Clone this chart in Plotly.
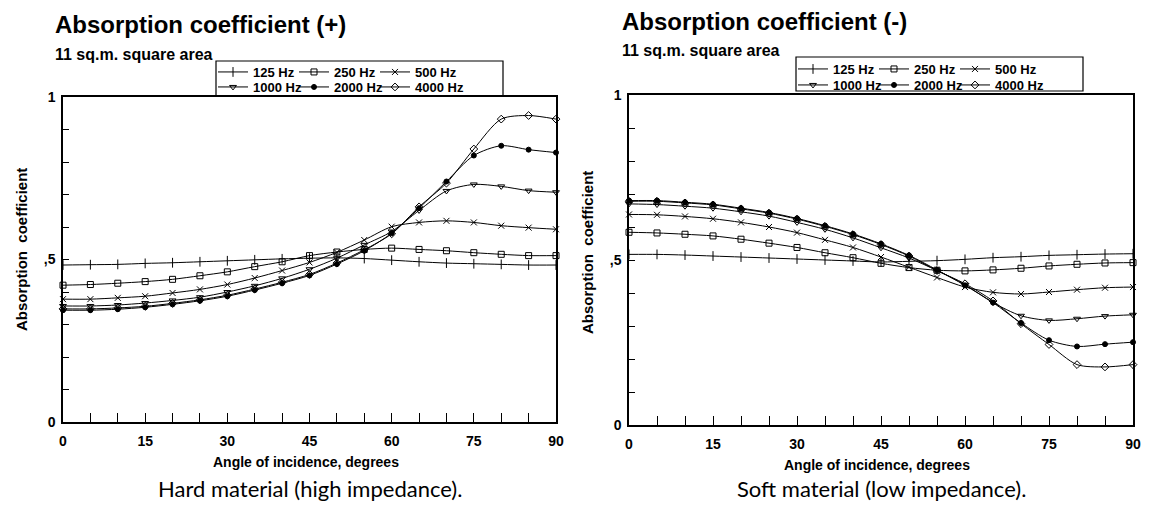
import plotly.graph_objects as go

# ---------------- data ----------------
angles = [0, 5, 10, 15, 20, 25, 30, 35, 40, 45, 50, 55, 60, 65, 70, 75, 80, 85, 90]
series_names = ["125 Hz", "250 Hz", "500 Hz", "1000 Hz", "2000 Hz", "4000 Hz"]

hard_125 = [0.483, 0.484, 0.485, 0.488, 0.490, 0.493, 0.496, 0.499, 0.502, 0.504, 0.505, 0.503, 0.498, 0.493, 0.489, 0.487, 0.485, 0.483, 0.483]
hard_250 = [0.421, 0.423, 0.427, 0.432, 0.439, 0.450, 0.462, 0.478, 0.493, 0.512, 0.523, 0.531, 0.535, 0.531, 0.527, 0.521, 0.516, 0.512, 0.512]
hard_500 = [0.378, 0.378, 0.382, 0.387, 0.397, 0.408, 0.423, 0.443, 0.466, 0.491, 0.522, 0.560, 0.601, 0.614, 0.619, 0.614, 0.604, 0.598, 0.593]
hard_1000 = [0.357, 0.357, 0.360, 0.366, 0.374, 0.384, 0.400, 0.419, 0.442, 0.470, 0.504, 0.545, 0.586, 0.651, 0.711, 0.731, 0.725, 0.712, 0.707]
hard_2000 = [0.344, 0.344, 0.347, 0.353, 0.362, 0.373, 0.387, 0.406, 0.427, 0.451, 0.486, 0.527, 0.581, 0.658, 0.740, 0.820, 0.850, 0.838, 0.829]
hard_4000 = [0.348, 0.348, 0.351, 0.356, 0.365, 0.376, 0.390, 0.409, 0.430, 0.454, 0.489, 0.530, 0.579, 0.662, 0.735, 0.840, 0.932, 0.943, 0.932]

soft_125 = [0.517, 0.517, 0.515, 0.512, 0.509, 0.506, 0.503, 0.500, 0.497, 0.494, 0.496, 0.498, 0.502, 0.507, 0.510, 0.514, 0.516, 0.518, 0.519]
soft_250 = [0.584, 0.582, 0.578, 0.573, 0.563, 0.551, 0.538, 0.522, 0.507, 0.490, 0.477, 0.469, 0.467, 0.470, 0.475, 0.482, 0.487, 0.491, 0.492]
soft_500 = [0.638, 0.637, 0.632, 0.625, 0.614, 0.600, 0.583, 0.561, 0.538, 0.509, 0.478, 0.447, 0.418, 0.402, 0.397, 0.403, 0.410, 0.416, 0.418]
soft_1000 = [0.670, 0.668, 0.663, 0.657, 0.646, 0.633, 0.614, 0.593, 0.567, 0.537, 0.506, 0.468, 0.425, 0.371, 0.331, 0.317, 0.322, 0.330, 0.334]
soft_2000 = [0.680, 0.680, 0.675, 0.669, 0.657, 0.644, 0.626, 0.604, 0.579, 0.549, 0.514, 0.470, 0.423, 0.371, 0.309, 0.257, 0.238, 0.245, 0.251]
soft_4000 = [0.678, 0.678, 0.673, 0.667, 0.655, 0.642, 0.624, 0.602, 0.577, 0.547, 0.512, 0.468, 0.428, 0.376, 0.307, 0.244, 0.183, 0.176, 0.183]

x_tick_vals = [0, 15, 30, 45, 60, 75, 90]
x_tick_text = ["0", "15", "30", "45", "60", "75", "90"]
y_tick_vals = [0, 0.5, 1]
y_tick_text = ["0", ",5", "1"]

panel_titles = ["Absorption coefficient (+)", "Absorption coefficient (-)"]
subtitle = "11 sq.m. square area"
x_title = "Angle of incidence, degrees"
y_title = "Absorption\u00a0\u00a0coefficient"
captions = ["Hard material (high impedance).", "Soft material (low impedance)."]

# ---------------- styling ----------------
W, H = 1153, 506
OFF = 8  # page body margin offset
FONT = "Liberation Sans, Arial, sans-serif"
symbols = ["line-ns-open", "square-open", "x-thin-open", "triangle-down-open", "circle", "diamond-open"]
msizes = [7, 6, 6, 6, 5, 6]

def px_x(p):
    return (p - OFF) / W

def px_y(p):
    return 1 - (p - OFF) / H

# plot areas in window pixels (left, right, top, bottom)
areas = [(63, 556, 97, 422), (629, 1133, 95, 425)]

fig = go.Figure()

panels = [
    [hard_125, hard_250, hard_500, hard_1000, hard_2000, hard_4000],
    [soft_125, soft_250, soft_500, soft_1000, soft_2000, soft_4000],
]
legend_ids = [("legend", "legend2"), ("legend3", "legend4")]

for p, data in enumerate(panels):
    xa = "x" if p == 0 else "x2"
    ya = "y" if p == 0 else "y2"
    for i, (name, vals) in enumerate(zip(series_names, data)):
        tr = dict(
            x=angles, y=vals, name=name, mode="lines+markers",
            xaxis=xa, yaxis=ya,
            line=dict(color="black", width=1, shape="spline", smoothing=0.8),
            marker=dict(symbol=symbols[i], size=msizes[i], color="black",
                        line=dict(color="black", width=1)),
            cliponaxis=False,
            legend=legend_ids[p][0] if i < 3 else legend_ids[p][1],
            showlegend=True,
        )
        if i in (2, 5):
            tr["legendwidth"] = 70
        fig.add_trace(go.Scatter(**tr))

axis_common = dict(
    showgrid=False, zeroline=False, showline=True, linecolor="black",
    linewidth=1.5, mirror=True, ticks="inside", tickcolor="black",
    tickfont=dict(family=FONT, size=14, color="black", weight="bold"),
)

layout_axes = {}
for p, (l, r, t, b) in enumerate(areas):
    sx = "" if p == 0 else "2"
    layout_axes["xaxis" + sx] = dict(
        axis_common, domain=[px_x(l), px_x(r)], range=[0, 90],
        anchor="y" + sx, tickvals=x_tick_vals, ticktext=x_tick_text,
        ticklen=9, tickwidth=1, ticklabelstandoff=5,
        minor=dict(dtick=5, tick0=0, ticks="inside", ticklen=9, tickcolor="black", tickwidth=1),
    )
    layout_axes["yaxis" + sx] = dict(
        axis_common, domain=[px_y(b), px_y(t)], range=[0, 1],
        anchor="x" + sx, tickvals=y_tick_vals, ticktext=y_tick_text,
        ticklen=6, tickwidth=1, ticklabelstandoff=3,
        minor=dict(dtick=0.1, tick0=0, ticks="inside", ticklen=6, tickcolor="black", tickwidth=1),
    )

legend_font = dict(family=FONT, size=13, color="black", weight="bold")
legend_base = dict(orientation="h", xanchor="left", yanchor="middle",
                   bgcolor="rgba(0,0,0,0)", borderwidth=0, font=legend_font,
                   entrywidth=36, entrywidthmode="pixels", itemwidth=30,
                   tracegroupgap=0, itemclick=False, itemdoubleclick=False)
# legend rows: (x_px, y_px) in window pixels
legend_pos = {"legend": (213, 72), "legend2": (213, 87),
              "legend3": (793, 69), "legend4": (793, 85)}
for k, (lx, ly) in legend_pos.items():
    layout_axes[k] = dict(legend_base, x=px_x(lx), y=px_y(ly))

shapes = [
    dict(type="rect", xref="paper", yref="paper",
         x0=px_x(216), x1=px_x(503), y0=px_y(96), y1=px_y(61),
         line=dict(color="black", width=1.2), fillcolor="rgba(0,0,0,0)"),
    dict(type="rect", xref="paper", yref="paper",
         x0=px_x(796), x1=px_x(1083), y0=px_y(91), y1=px_y(57),
         line=dict(color="black", width=1.2), fillcolor="rgba(0,0,0,0)"),
]

annotations = []
title_pos = [(53, 24), (620, 22)]
sub_pos = [(53, 54), (620, 51)]
ytitle_pos = [(21, 250), (587, 253)]
for p, (l, r, t, b) in enumerate(areas):
    cx = (l + r) / 2
    annotations.append(dict(text=panel_titles[p], xref="paper", yref="paper",
                            x=px_x(title_pos[p][0]), y=px_y(title_pos[p][1]),
                            xanchor="left", yanchor="middle", showarrow=False,
                            font=dict(family=FONT, size=24, color="black", weight="bold")))
    annotations.append(dict(text=subtitle, xref="paper", yref="paper",
                            x=px_x(sub_pos[p][0]), y=px_y(sub_pos[p][1]),
                            xanchor="left", yanchor="middle", showarrow=False,
                            font=dict(family=FONT, size=16, color="black", weight="bold")))
    annotations.append(dict(text=x_title, xref="paper", yref="paper",
                            x=px_x(cx - 4), y=px_y(b + 40),
                            xanchor="center", yanchor="middle", showarrow=False,
                            font=dict(family=FONT, size=14, color="black", weight="bold")))
    annotations.append(dict(text=y_title, xref="paper", yref="paper",
                            x=px_x(ytitle_pos[p][0]), y=px_y(ytitle_pos[p][1]),
                            xanchor="center", yanchor="middle", showarrow=False, textangle=-90,
                            font=dict(family=FONT, size=15, color="black", weight="bold")))
    annotations.append(dict(text=captions[p], xref="paper", yref="paper",
                            x=px_x(cx), y=px_y(488),
                            xanchor="center", yanchor="middle", showarrow=False,
                            font=dict(family="Lato, sans-serif", size=22, color="black")))

fig.update_layout(
    width=W, height=H,
    margin=dict(l=0, r=0, t=0, b=0, autoexpand=False),
    paper_bgcolor="white", plot_bgcolor="white",
    shapes=shapes, annotations=annotations,
    **layout_axes,
)

fig.write_html("out.html")
